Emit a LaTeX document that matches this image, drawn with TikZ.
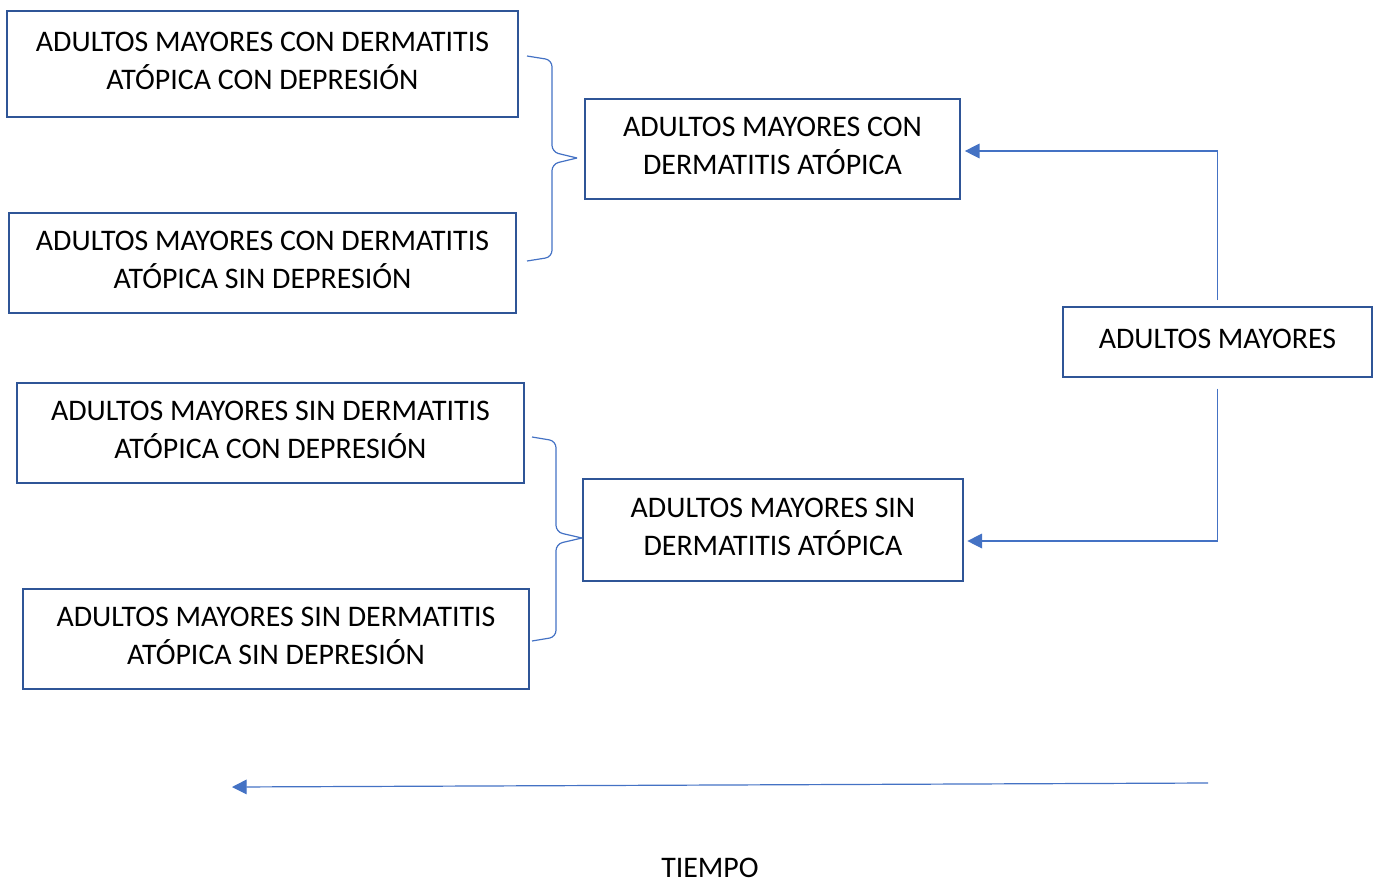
\documentclass[tikz,border=0pt]{standalone}
\usepackage{fontspec}
\setmainfont{Carlito}
\usetikzlibrary{arrows.meta}
\definecolor{boxblue}{RGB}{47,85,151}
\definecolor{lineblue}{RGB}{68,114,196}

\begin{document}
\begin{tikzpicture}[x=0.75pt, y=-0.75pt,
  box/.style={draw=boxblue, line width=1.5pt, align=center, inner sep=0pt,
              text depth=4.5pt, font=\fontsize{22.4}{28.5}\selectfont},
  link/.style={lineblue, line width=0.9pt, -{Triangle[length=11pt, width=11pt]}},
  curly/.style={lineblue, line width=0.9pt, rounded corners=5pt},
]
\useasboundingbox (0,0) rectangle (1378,883);

% Left column
\node[box, minimum width=383pt, minimum height=80pt] (acd) at (262.5, 64)
  {ADULTOS MAYORES CON DERMATITIS\\ATÓPICA CON DEPRESIÓN};
\node[box, minimum width=380pt, minimum height=75pt] (asd) at (262.5, 263)
  {ADULTOS MAYORES CON DERMATITIS\\ATÓPICA SIN DEPRESIÓN};
\node[box, minimum width=380pt, minimum height=75pt] (scd) at (270.5, 433)
  {ADULTOS MAYORES SIN DERMATITIS\\ATÓPICA CON DEPRESIÓN};
\node[box, minimum width=380pt, minimum height=75pt] (ssd) at (276, 639)
  {ADULTOS MAYORES SIN DERMATITIS\\ATÓPICA SIN DEPRESIÓN};

% Middle column
\node[box, minimum width=281pt, minimum height=75pt] (con) at (772.5, 149)
  {ADULTOS MAYORES CON\\DERMATITIS ATÓPICA};
\node[box, minimum width=285pt, minimum height=76.5pt] (sin) at (773, 530)
  {ADULTOS MAYORES SIN\\DERMATITIS ATÓPICA};

% Right
\node[box, minimum width=232pt, minimum height=52.5pt] (adm) at (1217.5, 342)
  {ADULTOS MAYORES};

% Braces
\draw[curly] (527,56) -- (552,60) -- (552,152) -- (577,158);
\draw[curly] (527,261) -- (552,257) -- (552,164) -- (577,158);
\draw[curly] (532,437) -- (556,441) -- (556,532) -- (582,538);
\draw[curly] (532,641) -- (556,637) -- (556,544) -- (582,538);

% Arrows
\draw[link, shorten <=4.5pt, shorten >=3pt] (adm.north) |- ([yshift=-1.5pt]con.east);
\draw[link, shorten <=8pt, shorten >=2.5pt] (adm.south) |- ([yshift=-8.25pt]sin.east);

% Time axis
\coordinate (tstart) at (1208,783);
\coordinate (tend) at (232,787);
\draw[link] (tstart) -- (tend);
\node[font=\fontsize{22.4}{28.5}\selectfont] (tiempo) at (710,868) {TIEMPO};
\end{tikzpicture}
\end{document}
